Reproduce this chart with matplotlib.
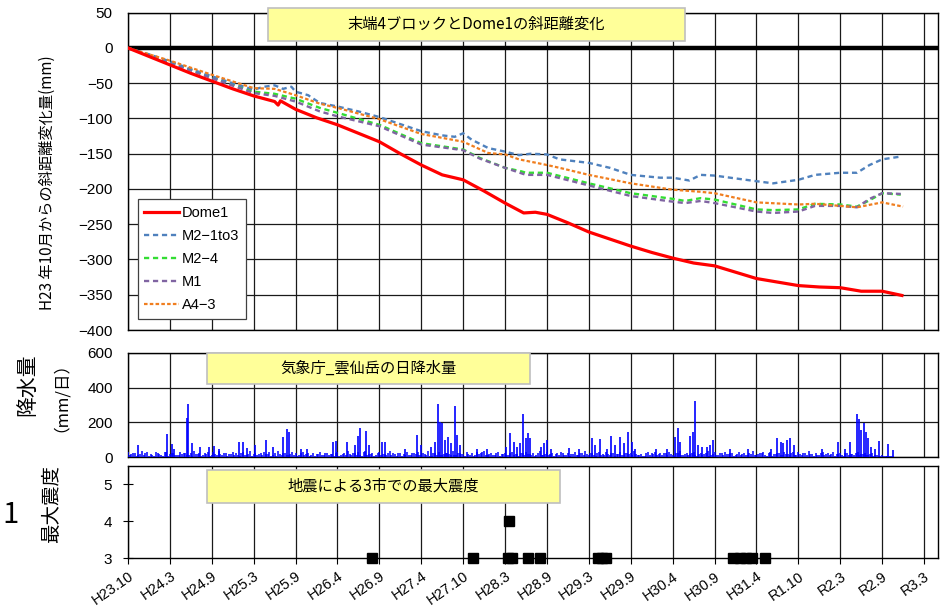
import matplotlib
matplotlib.use("Agg")
import matplotlib.pyplot as plt
from matplotlib.patches import Rectangle

plt.rcParams['font.family'] = ['Liberation Sans', 'Noto Sans CJK JP', 'DejaVu Sans']
plt.rcParams['axes.unicode_minus'] = True

# ---------------- data (x = days since H23.10) ----------------
tick_labels = ["H23.10", "H24.3", "H24.9", "H25.3", "H25.9", "H26.4", "H26.9", "H27.4",
               "H27.10", "H28.3", "H28.9", "H29.3", "H29.9", "H30.4", "H30.9", "H31.4",
               "R1.10", "R2.3", "R2.9", "R3.3"]

dome1_days = [0, 90, 180, 270, 360, 450, 540, 630, 645, 655, 720, 810, 900, 990, 1080, 1170,
              1260, 1350, 1440, 1530, 1620, 1700, 1750, 1800, 1890, 1980, 2070, 2160, 2250,
              2340, 2430, 2520, 2610, 2700, 2790, 2880, 2970, 3060, 3150, 3240, 3325]
dome1_vals = [0, -12, -24, -36, -47, -58, -68, -76, -81, -75, -87, -99, -109, -121, -133, -150,
              -166, -180, -187, -203, -220, -234, -233, -236, -248, -261, -271, -281, -290,
              -298, -305, -309, -318, -327, -332, -337, -339, -340, -345, -345, -351]

m21_days = [0, 90, 180, 270, 360, 450, 540, 585, 630, 666, 702, 720, 774, 824, 900, 990, 1080,
            1170, 1260, 1350, 1404, 1440, 1476, 1548, 1620, 1680, 1730, 1800, 1854, 1980, 2070,
            2160, 2286, 2340, 2412, 2460, 2520, 2610, 2700, 2772, 2880, 2952, 3060, 3132, 3186,
            3240, 3320]
m21_vals = [0, -9, -19, -30, -40, -50, -59, -55, -53, -58, -55, -62, -67, -78, -83, -90, -98,
            -108, -118, -124, -126, -121, -130, -142, -147, -152, -150, -151, -158, -163, -170,
            -180, -184, -184, -188, -180, -181, -185, -189, -192, -187, -180, -177, -177, -166,
            -158, -154]

m24_days = [0, 180, 360, 540, 630, 720, 824, 900, 1080, 1260, 1440, 1512, 1620, 1690, 1710,
            1800, 1980, 2160, 2340, 2394, 2460, 2520, 2700, 2772, 2880, 2952, 3060, 3132, 3186,
            3240, 3320]
m24_vals = [0, -20, -42, -62, -65, -72, -85, -92, -109, -135, -144, -156, -170, -175, -177,
            -177, -192, -206, -214, -217, -213, -215, -229, -230, -229, -221, -222, -225, -216,
            -206, -208]

m1_days = [0, 180, 360, 540, 630, 720, 824, 900, 1080, 1260, 1440, 1512, 1620, 1710, 1800,
           1980, 2160, 2340, 2394, 2460, 2520, 2700, 2772, 2880, 2952, 3060, 3132, 3186, 3240,
           3320]
m1_vals = [0, -21, -43, -64, -68, -76, -90, -97, -111, -137, -145, -157, -170, -180, -180,
           -195, -210, -218, -220, -217, -220, -232, -234, -232, -224, -224, -226, -214, -206,
           -207]

a43_days = [0, 180, 360, 540, 630, 720, 824, 900, 1080, 1260, 1440, 1548, 1620, 1680, 1800,
            1854, 1980, 2160, 2340, 2460, 2520, 2700, 2880, 2952, 3060, 3132, 3240, 3330]
a43_vals = [0, -18, -38, -57, -58, -67, -79, -85, -101, -122, -133, -149, -151, -158, -166,
            -170, -180, -192, -201, -204, -206, -219, -222, -221, -224, -226, -219, -225]

# daily precipitation (mm/day): notable rain days (day, mm)
rain_spikes = [(44, 70), (167, 133), (187, 76), (198, 50), (252, 228), (259, 308), (277, 84),
               (309, 60), (347, 60), (369, 66), (391, 50), (479, 86), (494, 86), (511, 55),
               (544, 70), (595, 100), (621, 60), (665, 115), (683, 160), (691, 147), (742, 48),
               (770, 50), (880, 90), (893, 95), (939, 86), (977, 70), (990, 122), (997, 166),
               (1023, 150), (1034, 70), (1093, 86), (1104, 90), (1192, 50), (1242, 128),
               (1258, 70), (1302, 60), (1319, 90), (1330, 308), (1339, 200), (1350, 194),
               (1361, 100), (1374, 118), (1389, 80), (1405, 293), (1414, 128), (1425, 70),
               (1499, 50), (1543, 50), (1626, 60), (1642, 137), (1657, 90), (1670, 60),
               (1686, 80), (1699, 248), (1710, 110), (1719, 137), (1727, 110), (1774, 60),
               (1789, 80), (1802, 100), (1817, 50), (1894, 55), (1938, 50), (1993, 110),
               (2008, 70), (2026, 103), (2059, 50), (2076, 122), (2092, 70), (2114, 115),
               (2131, 84), (2149, 147), (2164, 90), (2180, 50), (2267, 50), (2316, 50),
               (2351, 118), (2362, 166), (2373, 90), (2416, 122), (2428, 147), (2436, 324),
               (2447, 70), (2465, 60), (2487, 60), (2500, 70), (2513, 100), (2586, 50),
               (2662, 50), (2761, 50), (2790, 110), (2805, 90), (2816, 80), (2832, 100),
               (2845, 110), (2860, 70), (2981, 50), (3051, 86), (3080, 50), (3102, 90),
               (3132, 251), (3140, 217), (3149, 156), (3161, 198), (3172, 147), (3180, 110),
               (3191, 60), (3208, 50), (3226, 93), (3266, 76), (3286, 40)]
# background light rain, one value per 15 days starting at day 0
rain_bg_vals = [30, 18, 25, 12, 35, 22, 8, 15, 28, 20, 10, 32, 18, 25, 14, 30,
                22, 12, 26, 35, 18, 10, 24, 30, 15, 20, 36, 12, 25, 18, 30, 22,
                10, 28, 16, 34, 20, 12, 25, 30, 18, 8, 22, 35, 15, 26, 12, 30,
                24, 14, 32, 20, 10, 27, 18, 33, 12, 25, 20, 8, 30, 16, 24, 35,
                14, 22, 28, 10, 34, 18, 25, 12, 30, 20, 15, 36, 22, 10, 26, 18,
                32, 12, 24, 28, 16, 20, 35, 10, 25, 30, 14, 22, 18, 34, 12, 26,
                20, 30, 15, 10, 28, 22, 35, 16, 24, 12, 30, 18, 26, 14, 33, 20,
                10, 25, 30, 18, 22, 12, 34, 16, 28, 20, 10, 26, 32, 14, 24, 18,
                30, 12, 22, 35, 16, 25, 10, 28, 20, 33, 14, 24, 18, 30, 12, 26,
                22, 35, 15, 20, 10, 28, 24, 32, 18, 12, 26, 30, 16, 22, 34, 14,
                25, 18, 30, 10, 24, 20, 35, 12, 28, 16, 22, 32, 18, 26, 14, 30,
                20, 12, 25, 34, 16, 22, 28, 10, 30, 18, 24, 14, 33, 20, 26, 12,
                30, 16, 22, 35, 18, 25, 12, 28, 20, 14, 32, 18, 24, 10, 26, 20,
                14, 30, 18, 22, 12, 25, 16, 10, 12, 8, 6, 5, 4, 3, 3, 2]
# second set of light-rain days, one value per 15 days starting at day 7
rain_bg2_vals = [12, 26, 8, 20, 15, 30, 18, 10, 22, 14, 28, 9, 24, 16, 11, 20,
                 27, 15, 9, 18, 25, 13, 19, 10, 28, 12, 17, 24, 9, 21, 14, 11,
                 23, 15, 20, 9, 26, 17, 12, 19, 28, 14, 10, 18, 24, 11, 20, 15,
                 9, 22, 13, 27, 16, 10, 19, 12, 25, 14, 18, 26, 10, 21, 13, 17,
                 24, 11, 16, 28, 12, 20, 9, 23, 15, 18, 27, 12, 19, 24, 10, 16,
                 13, 25, 18, 11, 22, 14, 9, 27, 16, 12, 20, 26, 11, 15, 23, 18,
                 10, 17, 24, 13, 19, 28, 12, 21, 15, 25, 9, 18, 14, 22, 11, 17,
                 26, 13, 20, 16, 10, 24, 15, 19, 12, 27, 18, 11, 22, 14, 9, 20,
                 16, 25, 13, 18, 23, 11, 27, 15, 12, 19, 24, 10, 21, 14, 26, 17,
                 12, 20, 16, 9, 25, 13, 18, 11, 22, 27, 14, 19, 10, 24, 16, 21,
                 13, 26, 11, 18, 15, 23, 10, 20, 14, 27, 12, 17, 24, 9, 19, 16,
                 25, 13, 20, 11, 18, 26, 14, 22, 10, 17, 23, 12, 19, 15, 28, 11,
                 18, 24, 13, 20, 9, 16, 25, 12, 22, 17, 10, 21, 14, 26, 12, 18,
                 23, 11, 19, 14, 20, 10, 15, 9, 8, 6, 5, 4, 3, 2, 2, 1]

quake_days = [1048, 1482, 1632, 1650, 1638, 1718, 1770, 2019, 2036, 2053, 2599, 2629, 2655,
              2681, 2737]
quake_vals = [3, 3, 3, 3, 4, 3, 3, 3, 3, 3, 3, 3, 3, 3, 3]

# ---------------- figure ----------------
W, H = 946, 608
fig = plt.figure(figsize=(W / 100, H / 100), dpi=100)


def fx(px):
    return px / W


def fy(py):
    return 1 - py / H


x0, x1 = 128, 938
ax1 = fig.add_axes([fx(x0), fy(330), fx(x1 - x0), (330 - 12.7) / H])
ax2 = fig.add_axes([fx(x0), fy(457.3), fx(x1 - x0), (457.3 - 352.7) / H])
ax3 = fig.add_axes([fx(x0), fy(558), fx(x1 - x0), (558 - 466) / H])

xmax = 3480
ticks = [i * 180 for i in range(len(tick_labels))]
grid_kw = dict(color='#1a1a1a', linewidth=0.9)

for ax in (ax1, ax2, ax3):
    ax.set_xlim(0, xmax)
    ax.set_xticks(ticks)
    for s in ax.spines.values():
        s.set_color('black')
        s.set_linewidth(1.0)
    ax.tick_params(axis='y', labelsize=11, length=0, pad=11, color='black')
    ax.set_axisbelow(True)
    ax.xaxis.grid(True, **grid_kw)

# top panel
ax1.set_ylim(-400, 50)
ax1.set_yticks(range(-400, 51, 50))
ax1.yaxis.grid(True, **grid_kw)
ax1.tick_params(axis='x', labelbottom=False, length=0)
ax1.axhline(0, color='black', linewidth=3.2, zorder=3)
ax1.plot(dome1_days, dome1_vals, color='#FF0000', linewidth=2.3, label='Dome1', zorder=6)
ax1.plot(m21_days, m21_vals, color='#4F81BD', linewidth=1.7, dashes=(2.2, 1.6), label='M2\u22121to3', zorder=5)
ax1.plot(m24_days, m24_vals, color='#33DD33', linewidth=1.7, dashes=(2.2, 1.6), label='M2\u22124', zorder=4)
ax1.plot(m1_days, m1_vals, color='#8064A2', linewidth=1.7, dashes=(2.2, 1.6), label='M1', zorder=4)
ax1.plot(a43_days, a43_vals, color='#F07E1F', linewidth=1.6, dashes=(1.6, 1.0), label='A4\u22123', zorder=5)
leg = ax1.legend(loc='lower left', bbox_to_anchor=(0.012, 0.036), fontsize=10.5,
                 frameon=True, fancybox=False, edgecolor='#404040', framealpha=1,
                 handlelength=2.4, handletextpad=0.2, labelspacing=0.62, borderpad=0.45,
                 borderaxespad=0)
leg.get_frame().set_linewidth(0.9)
leg.set_zorder(10)

# middle panel
ax2.set_ylim(0, 600)
ax2.set_yticks([0, 200, 400, 600])
ax2.yaxis.grid(True, **grid_kw)
ax2.tick_params(axis='x', labelbottom=False, length=0)
bg_days = [15 * i for i in range(len(rain_bg_vals))]
ax2.vlines(bg_days, 0, rain_bg_vals, color='#0000FF', linewidth=1.1, zorder=3)
bg2_days = [7 + 15 * i for i in range(len(rain_bg2_vals))]
ax2.vlines(bg2_days, 0, rain_bg2_vals, color='#0000FF', linewidth=1.1, zorder=3)
sp_days = [d for d, v in rain_spikes]
sp_vals = [v for d, v in rain_spikes]
ax2.vlines(sp_days, 0, sp_vals, color='#0000FF', linewidth=1.2, zorder=3)

# bottom panel
ax3.set_ylim(3, 5.5)
ax3.set_yticks([3, 4, 5])
ax3.tick_params(axis='y', length=7, direction='inout', pad=8)
ax3.tick_params(axis='x', length=4, direction='out', pad=4)
ax3.set_xticklabels(tick_labels, rotation=35, ha='right', va='top', rotation_mode='anchor',
                    fontsize=10.5)
ax3.plot(quake_days, quake_vals, linestyle='none', marker='s', markersize=6.5,
         color='black', clip_on=False, zorder=5)


# title boxes
def title_box(l, t, r, b, txt):
    fig.patches.append(Rectangle((fx(l), fy(b)), fx(r - l), (b - t) / H, transform=fig.transFigure,
                                 facecolor='#FFFF99', edgecolor='#BFBFBF', linewidth=1.2, zorder=20))
    fig.text(fx((l + r) / 2), fy((t + b) / 2), txt, ha='center', va='center', fontsize=11,
             family=['Noto Sans CJK JP', 'DejaVu Sans'], zorder=21)


title_box(268, 8, 685, 41, "末端4ブロックとDome1の斜距離変化")
title_box(207, 353, 530, 384, "気象庁_雲仙岳の日降水量")
title_box(207, 470, 560, 503, "地震による3市での最大震度")

# y labels
cjk = ['Noto Sans CJK JP', 'DejaVu Sans']
fig.text(fx(47), fy(183), "H23 年10月からの斜距離変化量(mm)", rotation=90, ha='center', va='center',
         fontsize=11, family=cjk)
fig.text(fx(27), fy(385), "降水量", rotation=90, ha='center', va='center', fontsize=15, family=cjk)
fig.text(fx(52), fy(388), "（mm/日）", rotation=90, ha='center', va='center', fontsize=12, family=cjk)
fig.text(fx(52), fy(504), "最大震度", rotation=90, ha='center', va='center', fontsize=14, family=cjk)
fig.text(fx(10), fy(515), "1", ha='center', va='center', fontsize=21, family=cjk)

fig.savefig("out.png", dpi=100)
